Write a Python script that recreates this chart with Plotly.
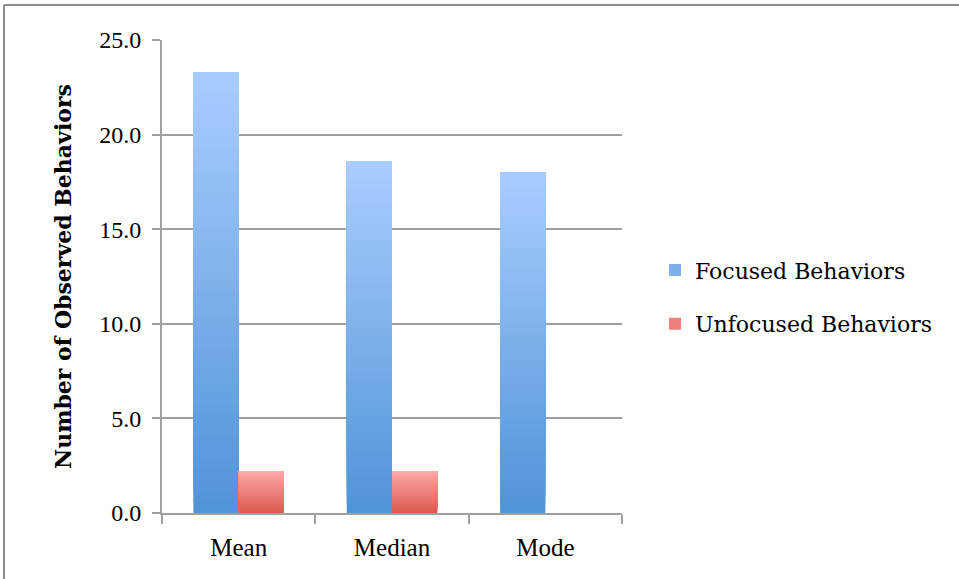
import plotly.graph_objects as go

categories = ["Mean", "Median", "Mode"]
focused = [23.3, 18.6, 18.0]
unfocused = [2.2, 2.2, 0.0]
series_names = ["Focused Behaviors", "Unfocused Behaviors"]
y_ticks = [0, 5, 10, 15, 20, 25]

W, H = 959, 579
ML, MR, MT, MB = 162, 337, 40, 66

def lerp(c1, c2, t):
    return "rgb(%d,%d,%d)" % tuple(round(a + (b - a) * t) for a, b in zip(c1, c2))

grad = {
    series_names[0]: ((0x4F, 0x93, 0xD8), (0xAA, 0xCD, 0xFE)),
    series_names[1]: ((0xDB, 0x58, 0x4E), (0xFD, 0xAA, 0xA8)),
}

fig = go.Figure()
N = 40
for name, vals in zip(series_names, [focused, unfocused]):
    bot, top = grad[name]
    for i in range(N):
        # each layer covers from its base to the top; later layers overlay above
        fig.add_trace(go.Bar(
            x=categories,
            y=[v * (N - i) / N for v in vals],
            base=[v * i / N for v in vals],
            offsetgroup=name,
            name=name,
            legendgroup=name,
            showlegend=False,
            marker=dict(color=lerp(bot, top, (i + 0.5) / N), line=dict(width=0)),
            hoverinfo="skip",
        ))
    fig.add_trace(go.Bar(
        x=[None], y=[None], name=name, legendgroup=name,
        marker=dict(color=lerp(bot, top, 0.5), line=dict(width=0)),
        offsetgroup=name, showlegend=True,
    ))

pw = W - ML - MR
ph = H - MT - MB
frame_x = (4 - ML) / pw
frame_y = 1 + (MT - 5) / ph

fig.update_layout(
    width=W, height=H,
    margin=dict(l=ML, r=MR, t=MT, b=MB),
    plot_bgcolor="white", paper_bgcolor="white",
    barmode="group", bargap=0.41, bargroupgap=0,
    font=dict(family="Liberation Serif", size=25, color="black"),
    legend=dict(x=(655 - ML) / pw, y=0.456, xanchor="left", yanchor="middle",
                font=dict(family="DejaVu Serif", size=22),
                tracegroupgap=22, itemwidth=30),
    shapes=[
        dict(type="line", xref="paper", yref="paper", x0=frame_x, x1=1 + MR / pw,
             y0=frame_y, y1=frame_y, line=dict(color="#8c8c8c", width=2)),
        dict(type="line", xref="paper", yref="paper", x0=frame_x, x1=frame_x,
             y0=frame_y, y1=-MB / ph, line=dict(color="#8c8c8c", width=2)),
    ],
)
fig.update_xaxes(
    type="category", showline=True, linecolor="#a0a0a0", linewidth=2,
    ticks="outside", tickson="boundaries", ticklen=9, tickcolor="#a0a0a0", tickwidth=2,
    showgrid=False, tickfont=dict(size=25), ticklabelstandoff=11,
)
fig.update_yaxes(
    range=[0, 25], tickvals=y_ticks, tickformat=".1f",
    showline=True, linecolor="#a0a0a0", linewidth=2,
    ticks="outside", ticklen=8, tickcolor="#a0a0a0", tickwidth=2,
    showgrid=True, gridcolor="#a0a0a0", gridwidth=1.5,
    tickfont=dict(size=24), zeroline=False, ticklabelstandoff=6,
    title=dict(text="<b>Number of Observed Behaviors</b>",
               font=dict(family="DejaVu Serif", size=22), standoff=22),
)
fig.write_html("out.html")
